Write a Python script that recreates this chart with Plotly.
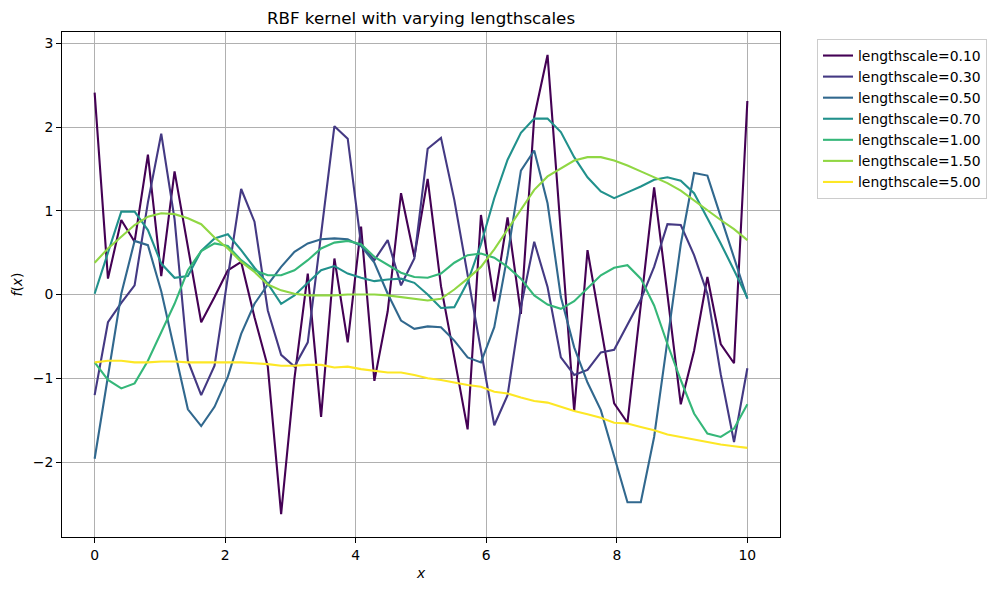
import numpy as np
import plotly.graph_objects as go

# x grid: 50 evenly spaced sample positions on [0, 10]
x = np.linspace(0, 10, 50)

lengthscales = [0.1, 0.3, 0.5, 0.7, 1.0, 1.5, 5.0]
colors = ["#440154", "#443983", "#31688e", "#21918c", "#35b779", "#90d743", "#fde725"]

ls_010 = [2.41, 0.19, 0.89, 0.63, 1.67, 0.22, 1.47, 0.57, -0.33, -0.03,
          0.29, 0.39, -0.27, -0.86, -2.62, -1.0, 0.25, -1.46, 0.43, -0.57,
          0.81, -1.03, -0.2, 1.21, 0.45, 1.38, 0.1, -0.75, -1.61, 0.95,
          -0.08, 0.92, -0.23, 2.12, 2.86, 0.74, -1.39, 0.53, -0.4, -1.30,
          -1.53, -0.1, 1.28, 0.0, -1.31, -0.67, 0.21, -0.59, -0.82, 2.31]
ls_030 = [-1.20, -0.33, -0.10, 0.11, 1.1, 1.92, 0.9, -0.79, -1.20, -0.85,
          0.21, 1.26, 0.87, -0.19, -0.72, -0.86, -0.57, 0.75, 2.01, 1.86,
          0.60, 0.41, 0.65, 0.11, 0.43, 1.74, 1.87, 1.13, 0.23, -0.66,
          -1.56, -1.20, -0.15, 0.63, 0.09, -0.75, -0.96, -0.90, -0.69, -0.66,
          -0.36, -0.06, 0.33, 0.84, 0.83, 0.47, 0.01, -0.95, -1.76, -0.88]
ls_050 = [-1.96, -0.97, 0.01, 0.64, 0.59, 0.04, -0.67, -1.37, -1.57, -1.34,
          -0.98, -0.47, -0.11, 0.12, 0.33, 0.51, 0.61, 0.66, 0.67, 0.66,
          0.58, 0.38, 0.01, -0.31, -0.41, -0.38, -0.39, -0.55, -0.75, -0.81,
          -0.39, 0.47, 1.48, 1.72, 1.09, -0.03, -0.63, -1.05, -1.38, -1.94,
          -2.48, -2.48, -1.70, -0.55, 0.6, 1.45, 1.42, 0.93, 0.44, -0.05]
ls_070 = [0.01, 0.5, 0.99, 0.99, 0.77, 0.37, 0.20, 0.22, 0.52, 0.67,
          0.72, 0.53, 0.32, 0.13, -0.11, -0.01, 0.14, 0.29, 0.34, 0.25,
          0.20, 0.16, 0.18, 0.19, 0.14, 0.0, -0.16, -0.15, 0.15, 0.6,
          1.15, 1.61, 1.93, 2.10, 2.10, 1.94, 1.64, 1.40, 1.23, 1.15,
          1.22, 1.29, 1.37, 1.40, 1.36, 1.21, 0.91, 0.61, 0.29, -0.04]
ls_100 = [-0.81, -1.02, -1.12, -1.06, -0.79, -0.45, -0.11, 0.29, 0.52, 0.61,
          0.58, 0.41, 0.29, 0.23, 0.23, 0.29, 0.41, 0.55, 0.62, 0.64,
          0.60, 0.45, 0.35, 0.26, 0.21, 0.20, 0.25, 0.38, 0.47, 0.49,
          0.44, 0.33, 0.19, -0.01, -0.12, -0.17, -0.08, 0.08, 0.23, 0.32,
          0.35, 0.19, -0.13, -0.59, -1.02, -1.42, -1.66, -1.70, -1.60, -1.31]
ls_150 = [0.38, 0.55, 0.69, 0.83, 0.93, 0.97, 0.96, 0.91, 0.84, 0.68,
          0.55, 0.39, 0.27, 0.12, 0.05, 0.01, -0.01, -0.01, -0.01, 0.0,
          0.0, 0.0, -0.01, -0.03, -0.05, -0.07, -0.05, 0.06, 0.19, 0.33,
          0.54, 0.78, 1.01, 1.25, 1.41, 1.51, 1.60, 1.64, 1.64, 1.60,
          1.54, 1.47, 1.40, 1.33, 1.24, 1.12, 1.00, 0.89, 0.78, 0.65]
ls_500 = [-0.81, -0.79, -0.79, -0.81, -0.81, -0.80, -0.80, -0.81, -0.81, -0.81,
          -0.81, -0.81, -0.82, -0.83, -0.85, -0.85, -0.84, -0.84, -0.87, -0.86,
          -0.89, -0.91, -0.93, -0.93, -0.96, -1.0, -1.02, -1.05, -1.08, -1.10,
          -1.16, -1.18, -1.23, -1.27, -1.29, -1.34, -1.39, -1.43, -1.47, -1.53,
          -1.54, -1.58, -1.62, -1.67, -1.70, -1.73, -1.76, -1.79, -1.81, -1.83]

series = [ls_010, ls_030, ls_050, ls_070, ls_100, ls_150, ls_500]

xtick_vals = [0, 2, 4, 6, 8, 10]
xtick_text = ["0", "2", "4", "6", "8", "10"]
ytick_vals = [-2, -1, 0, 1, 2, 3]
ytick_text = ["\u22122", "\u22121", "0", "1", "2", "3"]

FONT = "DejaVu Sans"

fig = go.Figure()
for ls, ys, c in zip(lengthscales, series, colors):
    fig.add_trace(go.Scatter(
        x=x, y=ys, mode="lines", name=f"lengthscale={ls:.2f}",
        line=dict(color=c, width=2.1),
    ))

axis_common = dict(
    showline=True, mirror=True, linecolor="black", linewidth=1.1,
    ticks="outside", ticklen=4.9, tickwidth=1.1, tickcolor="black",
    showgrid=True, gridcolor="#b0b0b0", gridwidth=1.1,
    zeroline=False, automargin=False,
    tickfont=dict(family=FONT, size=13.9, color="black"),
)

fig.update_layout(
    width=998, height=590,
    margin=dict(l=62, r=218, t=32, b=53, autoexpand=False),
    paper_bgcolor="white", plot_bgcolor="white",
    font=dict(family=FONT, size=13.9, color="black"),
    title=dict(text="RBF kernel with varying lengthscales", x=0.5, xref="paper",
               xanchor="center", y=1 - 18 / 590, yref="container", yanchor="middle",
               automargin=False,
               font=dict(family=FONT, size=16.7, color="black")),
    xaxis=dict(range=[-0.5, 10.5], tickvals=xtick_vals, ticktext=xtick_text,
               title=dict(text="<i>x</i>", standoff=6,
                          font=dict(family=FONT, size=13.9)),
               **axis_common),
    yaxis=dict(range=[-2.894, 3.134], tickvals=ytick_vals, ticktext=ytick_text,
               title=dict(text="<i>f</i>(<i>x</i>)", standoff=6,
                          font=dict(family=FONT, size=13.9)),
               **axis_common),
    legend=dict(x=(817 - 62) / 718, xanchor="left", y=(537 - 39) / 505, yanchor="top",
                bordercolor="#cccccc", borderwidth=1, bgcolor="rgba(255,255,255,0.8)",
                font=dict(family=FONT, size=13.9, color="black"), tracegroupgap=0),
    showlegend=True,
)

fig.write_html("out.html", config={"displayModeBar": False},
               post_script="document.body.style.margin='0px';")
